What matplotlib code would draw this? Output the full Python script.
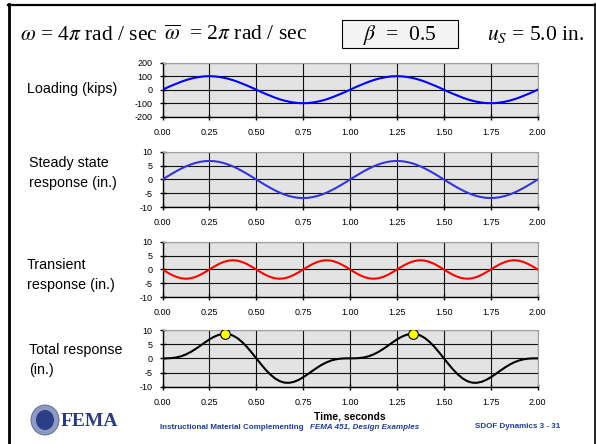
import numpy as np
import matplotlib.pyplot as plt
from matplotlib.lines import Line2D
from matplotlib.patches import Ellipse, Rectangle
from matplotlib.transforms import Affine2D

plt.rcParams['font.family'] = ['Liberation Sans', 'DejaVu Sans']
plt.rcParams['mathtext.fontset'] = 'stix'
plt.rcParams['axes.unicode_minus'] = False

# time axis (seconds), sampled every 0.025 s
time = np.linspace(0, 2, 81)

# loading (kips)
loading = [0, 16, 31, 45, 59, 71, 81, 89, 95, 99, 100, 99, 95, 89, 81, 71, 59, 45, 31, 16,
           0, -16, -31, -45, -59, -71, -81, -89, -95, -99, -100, -99, -95, -89, -81, -71, -59, -45, -31, -16,
           0, 16, 31, 45, 59, 71, 81, 89, 95, 99, 100, 99, 95, 89, 81, 71, 59, 45, 31, 16,
           0, -16, -31, -45, -59, -71, -81, -89, -95, -99, -100, -99, -95, -89, -81, -71, -59, -45, -31, -16, 0]

# steady state response (in.)
steady = [0, 1.04, 2.06, 3.03, 3.92, 4.72, 5.40, 5.94, 6.34, 6.59, 6.67, 6.59, 6.34, 5.94, 5.40, 4.72, 3.92, 3.03, 2.06, 1.04,
          0, -1.04, -2.06, -3.03, -3.92, -4.72, -5.40, -5.94, -6.34, -6.59, -6.67, -6.59, -6.34, -5.94, -5.40, -4.72, -3.92, -3.03, -2.06, -1.04,
          0, 1.04, 2.06, 3.03, 3.92, 4.72, 5.40, 5.94, 6.34, 6.59, 6.67, 6.59, 6.34, 5.94, 5.40, 4.72, 3.92, 3.03, 2.06, 1.04,
          0, -1.04, -2.06, -3.03, -3.92, -4.72, -5.40, -5.94, -6.34, -6.59, -6.67, -6.59, -6.34, -5.94, -5.40, -4.72, -3.92, -3.03, -2.06, -1.04, 0]

# transient response (in.)
transient = [0, -1.03, -1.96, -2.69, -3.17, -3.33, -3.17, -2.69, -1.96, -1.03, 0, 1.03, 1.96, 2.69, 3.17, 3.33, 3.17, 2.69, 1.96, 1.03,
             0, -1.03, -1.96, -2.69, -3.17, -3.33, -3.17, -2.69, -1.96, -1.03, 0, 1.03, 1.96, 2.69, 3.17, 3.33, 3.17, 2.69, 1.96, 1.03,
             0, -1.03, -1.96, -2.69, -3.17, -3.33, -3.17, -2.69, -1.96, -1.03, 0, 1.03, 1.96, 2.69, 3.17, 3.33, 3.17, 2.69, 1.96, 1.03,
             0, -1.03, -1.96, -2.69, -3.17, -3.33, -3.17, -2.69, -1.96, -1.03, 0, 1.03, 1.96, 2.69, 3.17, 3.33, 3.17, 2.69, 1.96, 1.03, 0]

# total response (in.)
total = [0, 0.01, 0.10, 0.34, 0.75, 1.39, 2.23, 3.25, 4.38, 5.56, 6.67, 7.62, 8.30, 8.63, 8.57, 8.05, 7.09, 5.72, 4.02, 2.07,
         0, -2.07, -4.02, -5.72, -7.09, -8.05, -8.57, -8.63, -8.30, -7.62, -6.67, -5.56, -4.38, -3.25, -2.23, -1.39, -0.75, -0.34, -0.10, -0.01,
         0, 0.01, 0.10, 0.34, 0.75, 1.39, 2.23, 3.25, 4.38, 5.56, 6.67, 7.62, 8.30, 8.63, 8.57, 8.05, 7.09, 5.72, 4.02, 2.07,
         0, -2.07, -4.02, -5.72, -7.09, -8.05, -8.57, -8.63, -8.30, -7.62, -6.67, -5.56, -4.38, -3.25, -2.23, -1.39, -0.75, -0.34, -0.10, -0.01, 0]

# peaks of the total response
peak_time = [0.333, 1.333]
peak_value = [8.66, 8.66]

x_ticks = [0, 0.25, 0.5, 0.75, 1.0, 1.25, 1.5, 1.75, 2.0]
load_ticks = [-200, -100, 0, 100, 200]
disp_ticks = [-10, -5, 0, 5, 10]

panel_labels = ['Loading (kips)', 'Steady state\nresponse (in.)',
                'Transient\nresponse (in.)', 'Total response\n(in.)']

W, H = 596, 444
fig = plt.figure(figsize=(W / 100, H / 100), dpi=100)
# pixel coordinates, y measured from the top
pix = Affine2D().scale(1 / W, -1 / H).translate(0, 1) + fig.transFigure

# frame of the slide
fig.add_artist(Line2D([9, 9], [4, 444], color='black', lw=2.0, transform=pix))
fig.add_artist(Line2D([8, 596], [5, 5], color='black', lw=1.6, transform=pix))
fig.add_artist(Line2D([595, 595], [4, 444], color='black', lw=1.2, transform=pix))

# header
hdr = dict(transform=pix, fontsize=15.5, family='Liberation Serif', va='baseline')
fig.text(20, 40, r'$\omega$ = 4$\pi$ rad / sec', **hdr)
fig.text(164, 40, r'$\overline{\omega}$  = 2$\pi$ rad / sec', **hdr)
fig.add_artist(Rectangle((342, 20), 116, 28, transform=pix, fc='#F4F4F4', ec='black', lw=0.8))
fig.text(400, 40, r'$\beta$  =  0.5', ha='center', **hdr)
fig.text(487, 40, r'$u_S$ = 5.0 in.', **hdr)

left, right = 162.5, 537.7
tops = [62.7, 151.7, 241.7, 330.0]
bottoms = [116.7, 207.3, 297.3, 386.7]
label_pos = [(27, 89), (29, 173), (27, 275), (29, 360)]
series = [loading, steady, transient, total]
colors = ['#0000FF', '#3535DD', '#FF0000', '#000000']

for i in range(4):
    ax = fig.add_axes([left / W, 1 - bottoms[i] / H, (right - left) / W, (bottoms[i] - tops[i]) / H])
    ax.set_facecolor('#E3E3E3')
    ax.plot(time, series[i], color=colors[i], lw=1.5, zorder=3)
    if i == 3:
        ax.plot(peak_time, peak_value, 'o', ms=7, mfc='#FFFF00', mec='black', mew=0.8, zorder=4)
    ax.set_xlim(0, 2)
    ax.set_xticks(x_ticks)
    ax.set_xticklabels(['%.2f' % v for v in x_ticks])
    if i == 0:
        ax.set_ylim(-200, 200)
        ax.set_yticks(load_ticks)
    else:
        ax.set_ylim(-10, 10)
        ax.set_yticks(disp_ticks)
    ax.set_axisbelow(True)
    ax.grid(True, color='#111111', lw=0.8)
    for s in ['top', 'right']:
        ax.spines[s].set_color('#A0A0A0')
        ax.spines[s].set_linewidth(0.8)
    for s in ['left', 'bottom']:
        ax.spines[s].set_color('black')
        ax.spines[s].set_linewidth(1.0)
    ax.tick_params(direction='inout', length=5, width=1, labelsize=6.5, colors='black')
    ax.tick_params(axis='y', pad=4.5)
    ax.tick_params(axis='x', pad=5.5)
    fig.text(label_pos[i][0], label_pos[i][1], panel_labels[i], transform=pix,
             fontsize=10.3, ha='left', va='center', linespacing=1.5)

fig.text(350, 416, 'Time, seconds', transform=pix, fontsize=7.4, fontweight='bold',
         ha='center', va='center')

# footer
blue = '#203C95'
fig.text(160, 427, 'Instructional Material Complementing ', transform=pix, fontsize=5.8,
         fontweight='bold', color=blue, ha='left', va='center')
fig.text(419, 427, 'FEMA 451, Design Examples', transform=pix, fontsize=5.8,
         fontweight='bold', style='italic', color=blue, ha='right', va='center')
fig.text(475, 426, 'SDOF Dynamics 3 - 31', transform=pix, fontsize=5.8,
         fontweight='bold', color=blue, ha='left', va='center')

# FEMA logo
fig.add_artist(Ellipse((45, 420), 28, 30, transform=pix, fc='#8C9AC4', ec='#55638F', lw=0.6))
fig.add_artist(Ellipse((45, 420), 18, 20, transform=pix, fc='#2C3F86', ec='none'))
fig.text(61, 421, 'FEMA', transform=pix, fontsize=14, fontweight='bold',
         family='Liberation Serif', color='#2B3B7D', ha='left', va='center')

fig.savefig('out.png', dpi=100)
